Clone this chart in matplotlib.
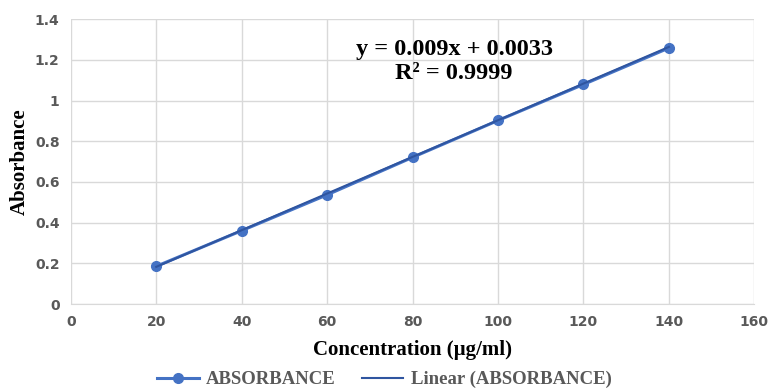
import matplotlib.pyplot as plt
import numpy as np

# Calibration data
concentration = [20, 40, 60, 80, 100, 120, 140]
absorbance = [0.186, 0.361, 0.537, 0.721, 0.902, 1.079, 1.258]
slope, intercept = 0.009, 0.0033
x_ticks = [0, 20, 40, 60, 80, 100, 120, 140, 160]
y_ticks = [0, 0.2, 0.4, 0.6, 0.8, 1.0, 1.2, 1.4]
y_tick_labels = ['0', '0.2', '0.4', '0.6', '0.8', '1', '1.2', '1.4']

blue = '#4472C4'
serif = 'Liberation Serif'

fig = plt.figure(figsize=(7.69, 3.89), dpi=100)
ax = fig.add_axes([0.092, 0.218, 0.889, 0.733])

ax.plot(concentration, absorbance, color=blue, linewidth=2.2, marker='o',
        markersize=7, label='ABSORBANCE', zorder=3)
fit_x = np.array([concentration[0], concentration[-1]])
ax.plot(fit_x, slope * fit_x + intercept, color='#2F55A0', linewidth=1.5,
        label='Linear (ABSORBANCE)', zorder=4)

ax.set_xlim(0, 160)
ax.set_ylim(0, 1.4)
ax.set_xticks(x_ticks)
ax.set_yticks(y_ticks)
ax.set_yticklabels(y_tick_labels)
ax.grid(True, color='#D9D9D9', linewidth=1)
ax.set_axisbelow(True)
for s in ['top', 'right', 'left']:
    ax.spines[s].set_visible(False)
ax.spines['bottom'].set_color('#D9D9D9')
ax.tick_params(length=0, labelsize=10, labelcolor='#595959', pad=8)
for lbl in ax.get_xticklabels() + ax.get_yticklabels():
    lbl.set_fontweight('bold')

ax.set_xlabel('Concentration (µg/ml)', fontfamily=serif, fontweight='bold',
              fontsize=15, labelpad=8)
ax.set_ylabel('Absorbance', fontfamily=serif, fontweight='bold',
              fontsize=15, labelpad=4)

ax.text(89.7, 1.19, 'y = 0.009x + 0.0033\nR² = 0.9999', ha='center', va='center',
        fontfamily=serif, fontweight='bold', fontsize=17.5, linespacing=1.2)

fig.legend(loc='center', bbox_to_anchor=(0.5, 0.024), ncol=2, frameon=False,
           prop={'family': serif, 'weight': 'bold', 'size': 13.5},
           labelcolor='#595959', handlelength=2.2, columnspacing=1.4,
           handletextpad=0.4)

fig.savefig('out.png', dpi=100)
